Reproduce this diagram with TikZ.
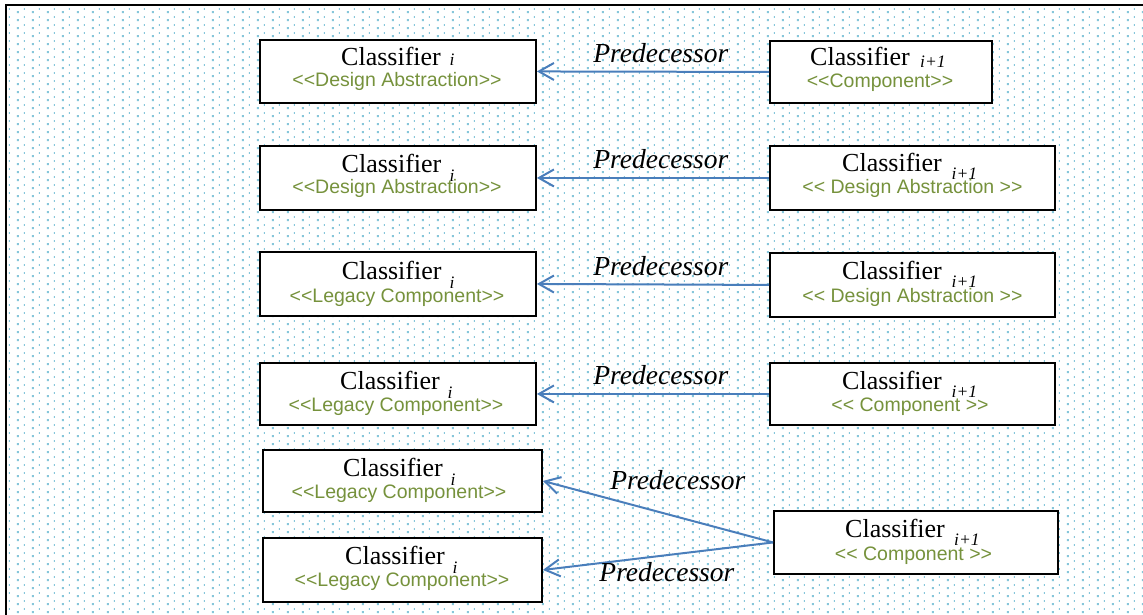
\documentclass[tikz,border=0pt]{standalone}
\usepackage{fontspec}
\setmainfont{Liberation Serif}
\newfontfamily\stereofont{Liberation Sans}
\usetikzlibrary{arrows.meta,patterns}

\definecolor{dotblue}{HTML}{86C6DA}
\definecolor{stereogreen}{HTML}{76923C}
\definecolor{linkblue}{HTML}{4A7EBB}

% light dotted sheet texture: a square dot and a thin tick per tile
\pgfdeclarepatternformonly{dotgrid}{\pgfqpoint{0pt}{0pt}}{\pgfqpoint{15pt}{7.5pt}}{\pgfqpoint{15pt}{7.5pt}}{%
  \pgfpathrectangle{\pgfqpoint{2pt}{2pt}}{\pgfqpoint{2pt}{2pt}}%
  \pgfpathrectangle{\pgfqpoint{9.5pt}{5.4pt}}{\pgfqpoint{1.1pt}{1.9pt}}%
  \pgfusepath{fill}%
}

\tikzset{
  classbox/.style={draw, line width=1.9pt, fill=white, rectangle, inner sep=0pt, anchor=north west},
  cls/.style={inner sep=0pt, anchor=base west, font=\fontsize{26}{30}\selectfont},
  sub/.style={inner sep=0pt, anchor=base west, font=\fontsize{17.5}{20}\selectfont\itshape},
  stereo/.style={inner sep=0pt, anchor=base, text=stereogreen, font=\stereofont\fontsize{19.5}{22}\selectfont},
  pred/.style={inner sep=0pt, anchor=base, font=\fontsize{27.5}{30}\selectfont\itshape},
  link/.style={draw=linkblue, line width=2pt, -{Straight Barb[length=15pt,width=17pt]}},
}

\begin{document}
\begin{tikzpicture}[x=1pt,y=-1pt]
\useasboundingbox (0,0) rectangle (1143,615);

% sheet with dotted texture and its frame
\fill[white] (0,0) rectangle (1143,615);
\fill[pattern=dotgrid, pattern color=dotblue] (6,5) rectangle (1143,615);
\draw[line width=2.2pt, line cap=rect] (6,615) -- (6,5) -- (1143,5);

% ---- row 1
\node[classbox, minimum width=276pt, minimum height=63pt] (L1) at (259,39) {};
\node[stereo] (L1s) at (397,87) {<<Design Abstraction>>};
\node[cls] (L1c) at (341,65.5) {Classifier};
\node[sub] (L1i) at (449.5,66) {i};

\node[classbox, minimum width=222pt, minimum height=62pt] (R1) at (769,40) {};
\node[stereo] (R1s) at (880,88) {<<Component>>};
\node[cls] (R1c) at (810,66) {Classifier};
\node[sub] (R1i) at (920,67.3) {i+1};

\draw[link] (R1.west) -- (L1.east) node[pred, pos=0.466, yshift=9pt] (P1) {Predecessor};

% ---- row 2
\node[classbox, minimum width=276pt, minimum height=64pt] (L2) at (259,145) {};
\node[stereo] (L2s) at (397,193.5) {<<Design Abstraction>>};
\node[cls] (L2c) at (341.5,172) {Classifier};
\node[sub] (L2i) at (449.3,181.5) {i};

\node[classbox, minimum width=285pt, minimum height=64pt] (R2) at (769,145) {};
\node[stereo] (R2s) at (912.5,193.5) {<< Design Abstraction >>};
\node[cls] (R2c) at (842,171.7) {Classifier};
\node[sub] (R2i) at (951.5,179.3) {i+1};

\draw[link] (R2.west) -- (L2.east) node[pred, pos=0.466, yshift=9pt] (P2) {Predecessor};

% ---- row 3
\node[classbox, minimum width=276pt, minimum height=64pt] (L3) at (259,251) {};
\node[stereo] (L3s) at (397,302) {<<Legacy Component>>};
\node[cls] (L3c) at (341.7,279.3) {Classifier};
\node[sub] (L3i) at (449.3,288.3) {i};

\node[classbox, minimum width=285pt, minimum height=64pt] (R3) at (769,252) {};
\node[stereo] (R3s) at (912.5,302) {<< Design Abstraction >>};
\node[cls] (R3c) at (842,279.5) {Classifier};
\node[sub] (R3i) at (951.5,287) {i+1};

\draw[link] (R3.west) -- (L3.east) node[pred, pos=0.466, yshift=9pt] (P3) {Predecessor};

% ---- row 4
\node[classbox, minimum width=276pt, minimum height=62pt] (L4) at (259,362) {};
\node[stereo] (L4s) at (396,411.5) {<<Legacy Component>>};
\node[cls] (L4c) at (340,389.5) {Classifier};
\node[sub] (L4i) at (447.5,398.5) {i};

\node[classbox, minimum width=285pt, minimum height=62pt] (R4) at (769,362) {};
\node[stereo] (R4s) at (910,411.5) {<< Component >>};
\node[cls] (R4c) at (842,389.5) {Classifier};
\node[sub] (R4i) at (951.5,397) {i+1};

\draw[link] (R4.west) -- (L4.east) node[pred, pos=0.466, yshift=9pt] (P4) {Predecessor};

% ---- row 5: one successor with two predecessors
\node[classbox, minimum width=279pt, minimum height=62pt] (L5a) at (262,449) {};
\node[stereo] (L5as) at (399,498.5) {<<Legacy Component>>};
\node[cls] (L5ac) at (343,476.5) {Classifier};
\node[sub] (L5ai) at (450.5,485.5) {i};

\node[classbox, minimum width=279pt, minimum height=64pt] (L5b) at (262,537) {};
\node[stereo] (L5bs) at (402,586.5) {<<Legacy Component>>};
\node[cls] (L5bc) at (345,564.5) {Classifier};
\node[sub] (L5bi) at (452.5,573.5) {i};

\node[classbox, minimum width=284pt, minimum height=63pt] (R5) at (773,510) {};
\node[stereo] (R5s) at (913.5,560) {<< Component >>};
\node[cls] (R5c) at (845,537.7) {Classifier};
\node[sub] (R5i) at (954,545.7) {i+1};

\draw[link] (R5.west) -- (L5a.east) node[pred, pos=0.414, yshift=27pt] (P5a) {Predecessor};
\draw[link] (R5.west) -- (L5b.east) node[pred, pos=0.461, yshift=-26pt] (P5b) {Predecessor};
\end{tikzpicture}
\end{document}
